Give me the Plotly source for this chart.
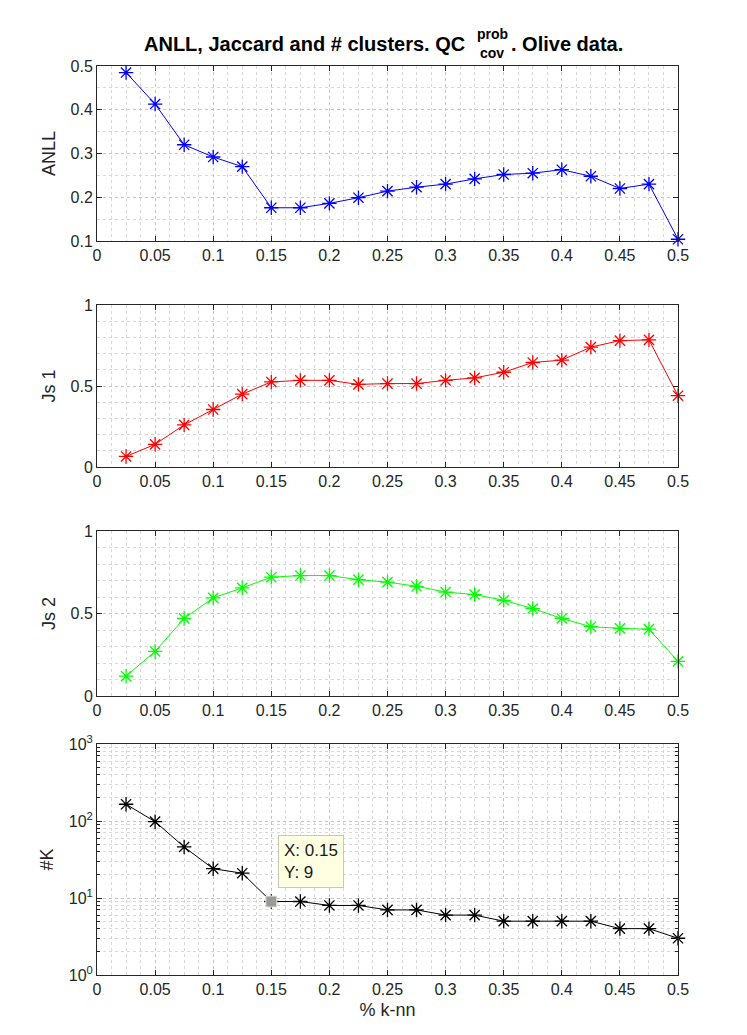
import plotly.graph_objects as go
from plotly.subplots import make_subplots

# k-nn fraction
knn = [0.025, 0.05, 0.075, 0.1, 0.125, 0.15, 0.175, 0.2, 0.225, 0.25,
       0.275, 0.3, 0.325, 0.35, 0.375, 0.4, 0.425, 0.45, 0.475, 0.5]

anll = [0.485, 0.413, 0.320, 0.292, 0.270, 0.176, 0.176, 0.186, 0.199, 0.214,
        0.223, 0.230, 0.242, 0.252, 0.255, 0.263, 0.248, 0.220, 0.230, 0.104]

js1 = [0.065, 0.140, 0.260, 0.355, 0.450, 0.525, 0.535, 0.535, 0.510, 0.515,
       0.515, 0.535, 0.550, 0.585, 0.645, 0.660, 0.740, 0.780, 0.785, 0.440]

js2 = [0.120, 0.270, 0.470, 0.595, 0.655, 0.720, 0.730, 0.730, 0.705, 0.690,
       0.665, 0.630, 0.615, 0.580, 0.530, 0.470, 0.420, 0.410, 0.405, 0.210]

nk = [165, 98, 46, 24, 21, 9, 9, 8, 8, 7, 7, 6, 6, 5, 5, 5, 5, 4, 4, 3]

x_ticks = [0, 0.05, 0.1, 0.15, 0.2, 0.25, 0.3, 0.35, 0.4, 0.45, 0.5]
log_ticks = [1, 10, 100, 1000]
log_labels = ["10<sup>0</sup>", "10<sup>1</sup>", "10<sup>2</sup>", "10<sup>3</sup>"]
tip_idx = 5  # data tip at x = 0.15

AX = "#262626"
GRID = "#c4c4c4"
MINOR = "#d8d8d8"
FONT = "Liberation Sans, Arial, sans-serif"

# the page body has an 8px margin, so work in page pixels minus 8
OFF = 8
W, H = 747 - OFF, 1035 - OFF
L, R, T, B = 97 - OFF, 678 - OFF, 66 - OFF, 975 - OFF


def dom(top, bottom):
    return [(B - (bottom - OFF)) / (B - T), (B - (top - OFF)) / (B - T)]


def px_x(p):
    return (p - OFF - L) / (R - L)


def px_y(p):
    return (B - (p - OFF)) / (B - T)


fig = make_subplots(rows=4, cols=1)

series = [(anll, "#0000ff"), (js1, "#ff0000"), (js2, "#00ff00"), (nk, "#000000")]
for i, (ys, col) in enumerate(series, start=1):
    fig.add_trace(
        go.Scatter(
            x=knn, y=ys, mode="lines+markers",
            line=dict(color=col, width=1),
            marker=dict(symbol="asterisk-open", size=12,
                        line=dict(color=col, width=1.3)),
            cliponaxis=False, showlegend=False,
        ),
        row=i, col=1,
    )

# data tip marker
fig.add_trace(
    go.Scatter(
        x=[knn[tip_idx]], y=[nk[tip_idx]], mode="markers",
        marker=dict(symbol="square", size=11, color="#9a9a9a",
                    line=dict(color="#e8e8d8", width=1)),
        showlegend=False, cliponaxis=False,
    ),
    row=4, col=1,
)

domains = [dom(66, 241), dom(305, 467), dom(531, 696), dom(744, 975)]
ytitles = ["ANLL", "Js 1", "Js 2", "#K"]

common = dict(
    showline=True, linecolor=AX, linewidth=1, mirror="allticks",
    ticks="inside", ticklen=5, tickcolor=AX, tickwidth=1,
    showgrid=True, gridcolor=GRID, griddash="dot", gridwidth=1,
    zeroline=False,
    tickfont=dict(family=FONT, size=16, color=AX),
)

for i in range(4):
    xa = "xaxis" if i == 0 else f"xaxis{i + 1}"
    ya = "yaxis" if i == 0 else f"yaxis{i + 1}"
    fig.layout[xa].update(
        domain=[0, 1], range=[0, 0.5], tickvals=x_ticks,
        minor=dict(dtick=0.0125, showgrid=True, gridcolor=MINOR,
                   griddash="dot", ticks=""),
        **common,
    )
    fig.layout[ya].update(domain=domains[i], **common)
    fig.layout[ya].title = dict(text=ytitles[i],
                                font=dict(family=FONT, size=18, color=AX),
                                standoff=10)

fig.layout.yaxis.update(range=[0.1, 0.5], tickvals=[0.1, 0.2, 0.3, 0.4, 0.5],
                        minor=dict(dtick=0.05, showgrid=True, gridcolor=MINOR,
                                   griddash="dot", ticks=""))
for ya in ["yaxis2", "yaxis3"]:
    fig.layout[ya].update(range=[0, 1], tickvals=[0, 0.5, 1],
                          minor=dict(dtick=0.1, showgrid=True, gridcolor=MINOR,
                                     griddash="dot", ticks=""))
fig.layout.yaxis4.update(type="log", range=[0, 3], tickvals=log_ticks,
                         ticktext=log_labels,
                         minor=dict(dtick="D1", showgrid=True, gridcolor=MINOR,
                                    griddash="dot", ticks="inside", ticklen=3,
                                    tickcolor=AX))
fig.layout.xaxis4.title = dict(text="% k-nn",
                               font=dict(family=FONT, size=18, color=AX),
                               standoff=6)

# data tip box
fig.add_annotation(
    x=knn[tip_idx], y=0.954, xref="x4", yref="y4",
    text=f"X: {knn[tip_idx]}<br>Y: {nk[tip_idx]}",
    showarrow=False, xanchor="left", yanchor="bottom", align="left",
    xshift=7, yshift=14,
    bgcolor="#ffffe1", bordercolor="#c8c8b4", borderwidth=1, borderpad=5,
    font=dict(family=FONT, size=17, color="#1a1a1a"),
)

# title, with the stacked prob / cov scripts
title_font = dict(family=FONT, size=20, color="#000000")
script_font = dict(family=FONT, size=14, color="#000000")
fig.add_annotation(x=px_x(467), y=px_y(44), xref="paper", yref="paper",
                   text="<b>ANLL, Jaccard and # clusters. QC</b>",
                   showarrow=False, xanchor="right", yanchor="middle",
                   font=title_font)
fig.add_annotation(x=px_x(492), y=px_y(34), xref="paper", yref="paper",
                   text="<b>prob</b>", showarrow=False,
                   xanchor="center", yanchor="middle", font=script_font)
fig.add_annotation(x=px_x(492), y=px_y(53), xref="paper", yref="paper",
                   text="<b>cov</b>", showarrow=False,
                   xanchor="center", yanchor="middle", font=script_font)
fig.add_annotation(x=px_x(509), y=px_y(44), xref="paper", yref="paper",
                   text="<b>. Olive data.</b>",
                   showarrow=False, xanchor="left", yanchor="middle",
                   font=title_font)

fig.update_layout(
    width=W, height=H,
    margin=dict(l=L, r=W - R, t=T, b=H - B),
    paper_bgcolor="white", plot_bgcolor="white",
    font=dict(family=FONT, color=AX),
)

fig.write_html("out.html")
